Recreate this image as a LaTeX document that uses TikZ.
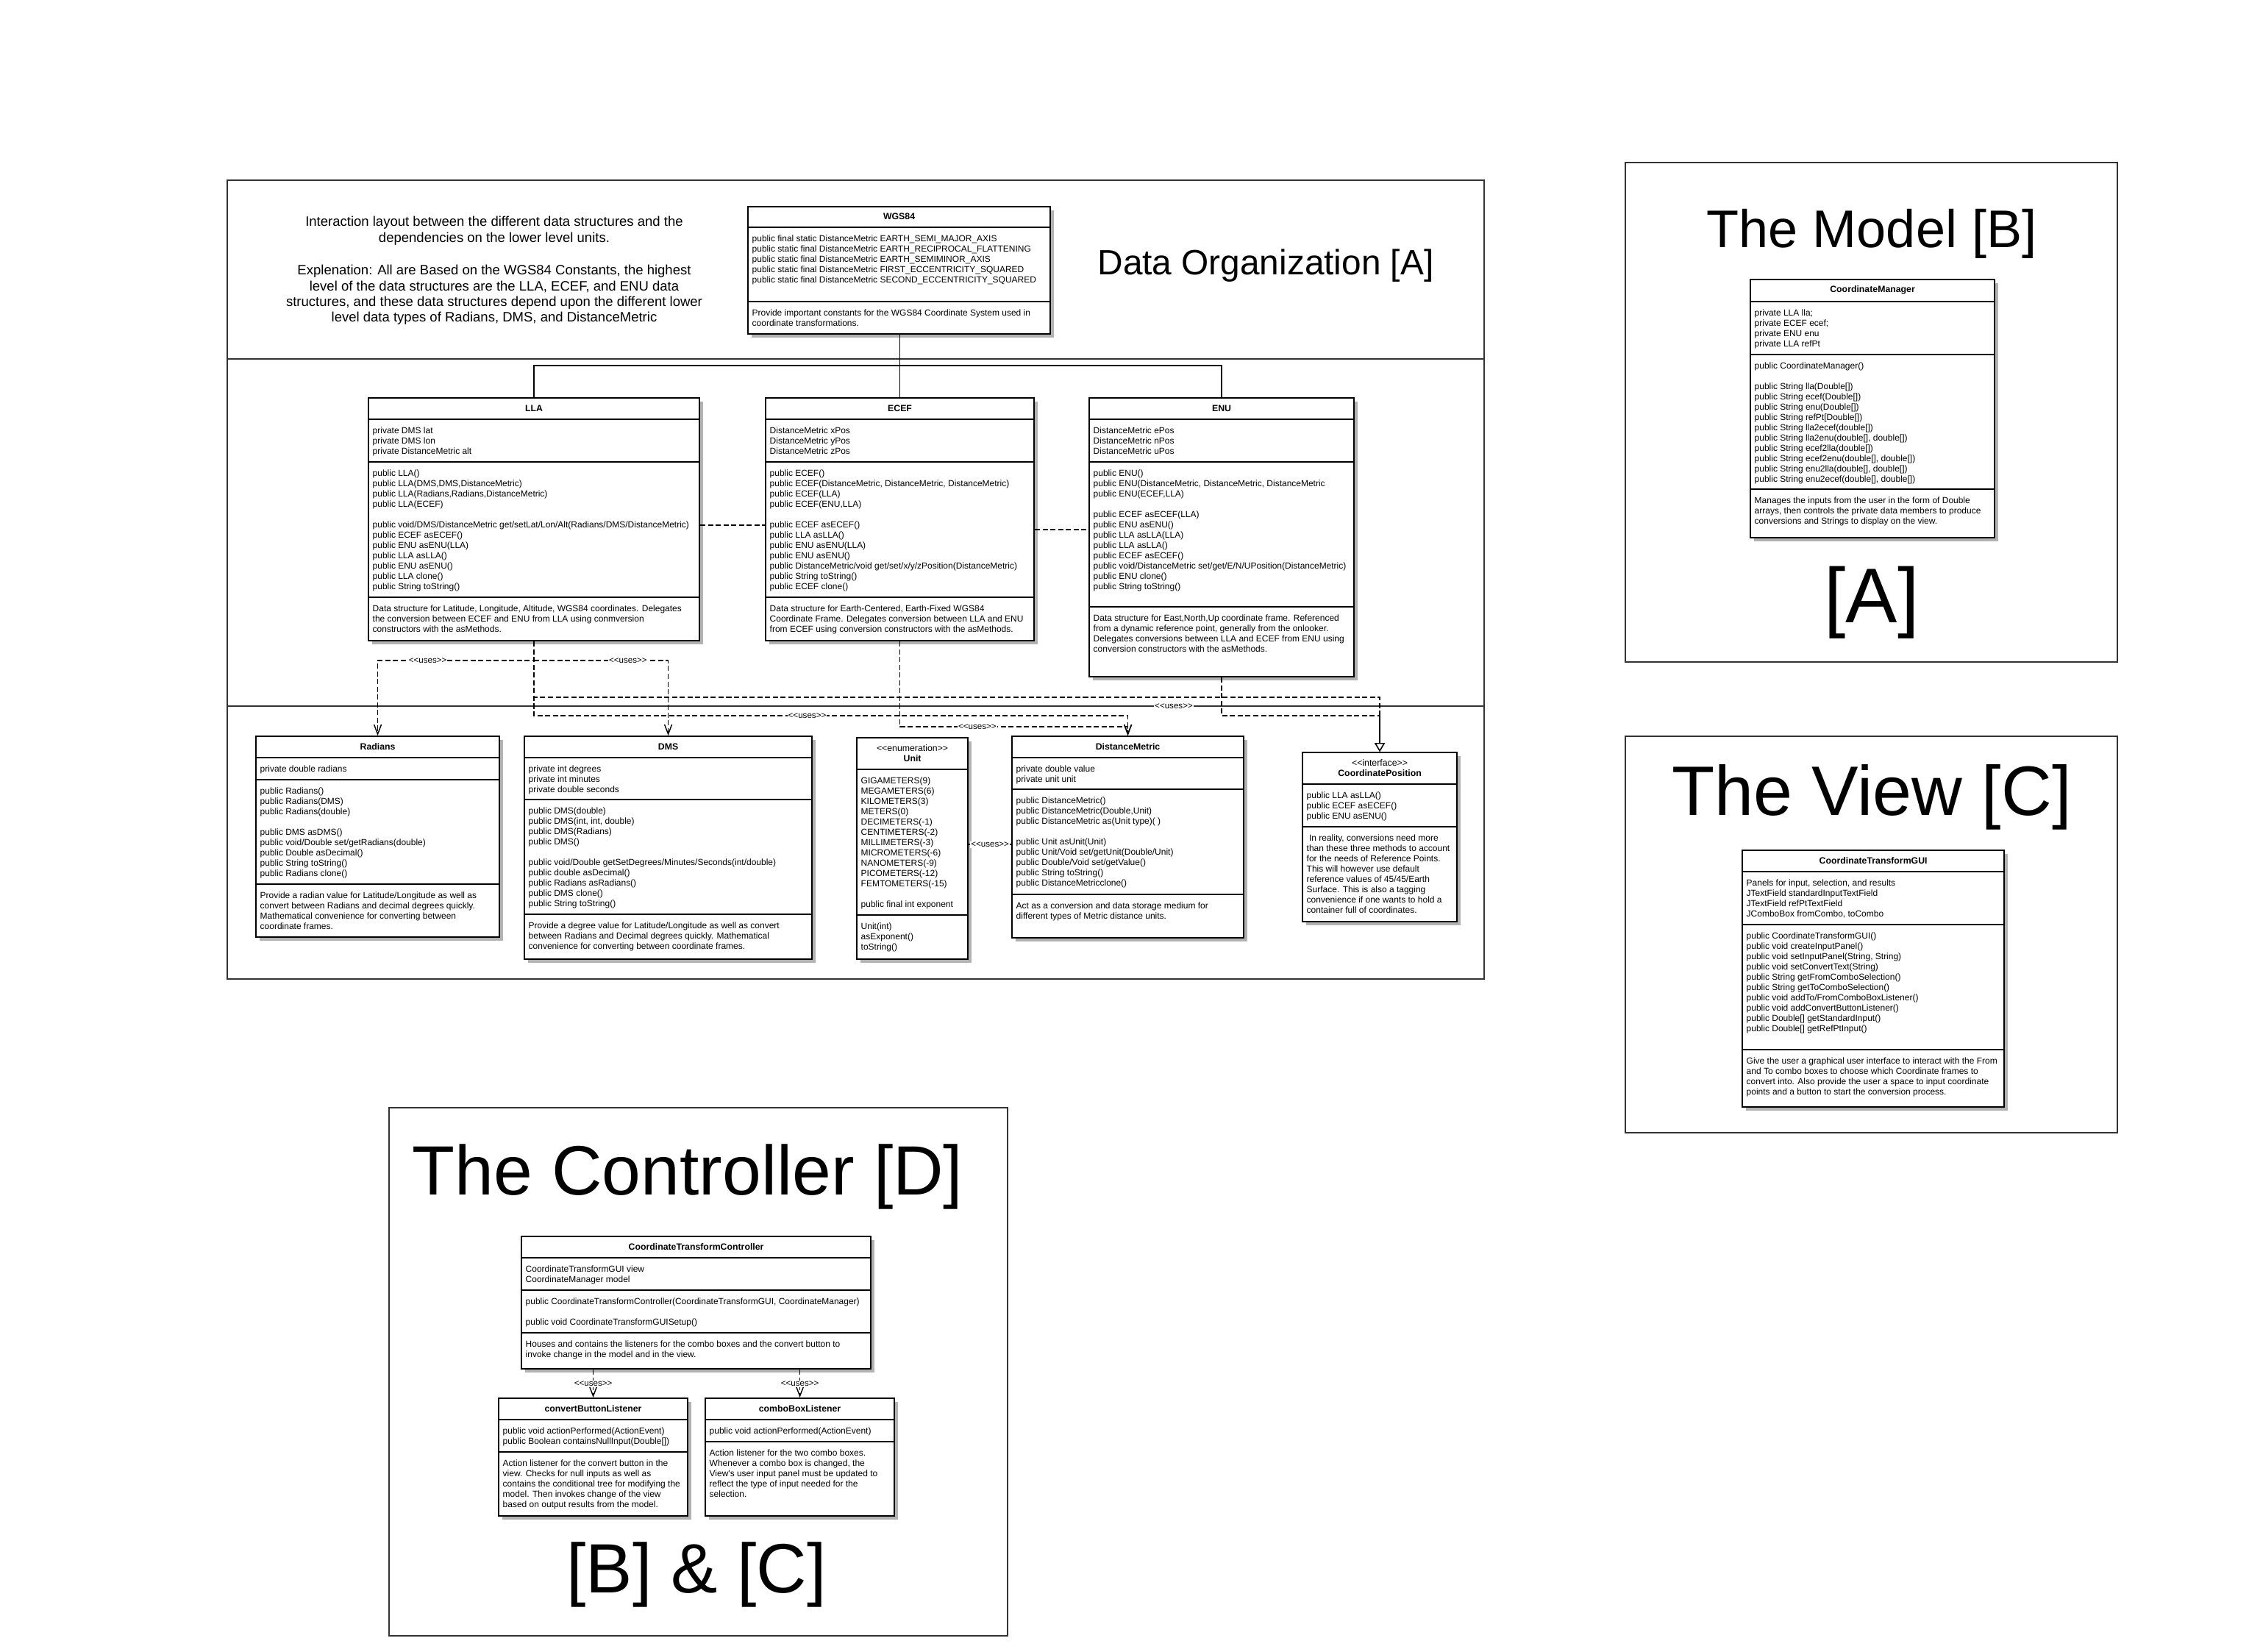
\documentclass[tikz,border=0pt]{standalone}
\usepackage{fontspec}
\setmainfont{Liberation Sans}[Ligatures=TeXOff]
\usetikzlibrary{positioning,arrows.meta,shadows}

% class box: name, top left corner, width, height, header height, title
\newcommand{\umlclass}[6]{%
  \node[cls, minimum width=#3cm, minimum height=#4cm] (#1) at (#2) {};
  \node[ctitle, shift={(0,#5/2)}] (#1-t) at (#1.north) {#6};}
% compartment: box, suffix, offset from top, text
\newcommand{\umlpart}[4]{%
  \draw[sep] ([yshift=-#3cm]#1.north west) -- ([yshift=-#3cm]#1.north east);
  \node[ctext, shift={(0.06,0.10)}] (#1-#2) at ([yshift=-#3cm]#1.north west) {#4};}

\begin{document}
\begin{tikzpicture}[x=1cm, y=-1cm,
  cls/.style={draw, line width=0.6pt, fill=white, inner sep=0pt, anchor=north west,
    general shadow={fill=black!30, shadow xshift=0.05cm, shadow yshift=-0.05cm}},
  ctitle/.style={font=\bfseries\fontsize{3.5}{4.1}\selectfont, inner sep=0pt, align=center},
  ctext/.style={anchor=north west, align=left, inner sep=0pt, font=\fontsize{3.41}{3.98}\selectfont},
  sep/.style={line width=0.6pt},
  frame/.style={draw=black!80, line width=0.6pt, anchor=north west, inner sep=0pt},
  dep/.style={dash pattern=on 2pt off 1pt, line width=0.4pt, -{Straight Barb[length=0.13cm, width=0.10cm]}},
  real/.style={dash pattern=on 2pt off 1pt, line width=0.4pt, -{Triangle[open, length=0.12cm, width=0.14cm, fill=white]}},
  assoc/.style={dash pattern=on 2pt off 1pt, line width=0.4pt},
  uses/.style={fill=white, inner sep=0.3pt, font=\fontsize{3.3}{4}\selectfont},
  intro/.style={align=center, inner sep=0pt, font=\fontsize{5.27}{6.1}\selectfont},
  bigtitle/.style={inner sep=0pt, font=\fontsize{#1}{#1}\selectfont}]
\useasboundingbox (0,0) rectangle (30.58,22.45);

% frames
\node[frame, minimum width=17.09cm, minimum height=10.86cm] (fA) at (3.08,2.44) {};
\draw[draw=black!80, line width=0.6pt] (fA.west |- 0,4.88) -- (fA.east |- 0,4.88);
\draw[draw=black!80, line width=0.6pt] (fA.west |- 0,9.60) -- (fA.east |- 0,9.60);
\node[frame, minimum width=6.69cm, minimum height=6.79cm] (fB) at (22.09,2.20) {};
\node[frame, minimum width=6.69cm, minimum height=5.39cm] (fC) at (22.09,10.00) {};
\node[frame, minimum width=8.41cm, minimum height=7.18cm] (fD) at (5.28,15.05) {};

\node[intro] (intro) at (6.72,3.68) {Interaction layout between the different data structures and the\\
dependencies on the lower level units.\\[6.6pt]
Explenation: All are Based on the WGS84 Constants, the highest\\
level of the data structures are the LLA, ECEF, and ENU data\\
structures, and these data structures depend upon the different lower\\
level data types of Radians, DMS, and DistanceMetric};
\node[bigtitle=13.6] (titleA) at (17.21,3.61) {Data Organization [A]};
\node[bigtitle=20.5] (titleB) at (25.45,3.18) {The Model [B]};
\node[bigtitle=30] (markA) at (25.45,8.19) {[A]};
\node[bigtitle=27.1] (titleC) at (25.45,10.84) {The View [C]};
\node[bigtitle=27] (titleD) at (9.35,16.00) {The Controller [D]};
\node[bigtitle=27] (markBC) at (9.47,21.41) {[B] \& [C]};

% data organization
\umlclass{wgs}{10.16,2.80}{4.11}{1.73}{0.29}{WGS84}
\umlpart{wgs}{a}{0.29}{public final static DistanceMetric EARTH\_SEMI\_MAJOR\_AXIS\\
public static final DistanceMetric EARTH\_RECIPROCAL\_FLATTENING\\
public static final DistanceMetric EARTH\_SEMIMINOR\_AXIS\\
public static final DistanceMetric FIRST\_ECCENTRICITY\_SQUARED\\
public static final DistanceMetric SECOND\_ECCENTRICITY\_SQUARED}
\umlpart{wgs}{b}{1.30}{Provide important constants for the WGS84 Coordinate System used in\\
coordinate transformations.}

\umlclass{lla}{5.00,5.40}{4.50}{3.30}{0.30}{LLA}
\umlpart{lla}{a}{0.30}{private DMS lat\\private DMS lon\\private DistanceMetric alt}
\umlpart{lla}{b}{0.88}{public LLA()\\public LLA(DMS,DMS,DistanceMetric)\\
public LLA(Radians,Radians,DistanceMetric)\\public LLA(ECEF)\\[3.98pt]
public void/DMS/DistanceMetric get/setLat/Lon/Alt(Radians/DMS/DistanceMetric)\\
public ECEF asECEF()\\public ENU asENU(LLA)\\public LLA asLLA()\\public ENU asENU()\\
public LLA clone()\\public String toString()}
\umlpart{lla}{c}{2.72}{Data structure for Latitude, Longitude, Altitude, WGS84 coordinates. Delegates\\
the conversion between ECEF and ENU from LLA using conmversion\\
constructors with the asMethods.}

\umlclass{ecef}{10.40,5.40}{3.65}{3.30}{0.30}{ECEF}
\umlpart{ecef}{a}{0.30}{DistanceMetric xPos\\DistanceMetric yPos\\DistanceMetric zPos}
\umlpart{ecef}{b}{0.88}{public ECEF()\\public ECEF(DistanceMetric, DistanceMetric, DistanceMetric)\\
public ECEF(LLA)\\public ECEF(ENU,LLA)\\[3.98pt]
public ECEF asECEF()\\public LLA asLLA()\\public ENU asENU(LLA)\\public ENU asENU()\\
public DistanceMetric/void get/set/x/y/zPosition(DistanceMetric)\\
public String toString()\\public ECEF clone()}
\umlpart{ecef}{c}{2.72}{Data structure for Earth-Centered, Earth-Fixed WGS84\\
Coordinate Frame. Delegates conversion between LLA and ENU\\
from ECEF using conversion constructors with the asMethods.}

\umlclass{enu}{14.80,5.40}{3.60}{3.79}{0.30}{ENU}
\umlpart{enu}{a}{0.30}{DistanceMetric ePos\\DistanceMetric nPos\\DistanceMetric uPos}
\umlpart{enu}{b}{0.88}{public ENU()\\public ENU(DistanceMetric, DistanceMetric, DistanceMetric\\
public ENU(ECEF,LLA)\\[3.98pt]
public ECEF asECEF(LLA)\\public ENU asENU()\\public LLA asLLA(LLA)\\public LLA asLLA()\\
public ECEF asECEF()\\public void/DistanceMetric set/get/E/N/UPosition(DistanceMetric)\\
public ENU clone()\\public String toString()}
\umlpart{enu}{c}{2.85}{Data structure for East,North,Up coordinate frame. Referenced\\
from a dynamic reference point, generally from the onlooker.\\
Delegates conversions between LLA and ECEF from ENU using\\
conversion constructors with the asMethods.}

\umlclass{rad}{3.47,10.00}{3.31}{2.73}{0.30}{Radians}
\umlpart{rad}{a}{0.30}{private double radians}
\umlpart{rad}{b}{0.60}{public Radians()\\public Radians(DMS)\\public Radians(double)\\[3.98pt]
public DMS asDMS()\\public void/Double set/getRadians(double)\\public Double asDecimal()\\
public String toString()\\public Radians clone()}
\umlpart{rad}{c}{2.02}{Provide a radian value for Latitude/Longitude as well as\\
convert between Radians and decimal degrees quickly.\\
Mathematical convenience for converting between\\coordinate frames.}

\umlclass{dms}{7.12,10.00}{3.91}{3.03}{0.30}{DMS}
\umlpart{dms}{a}{0.30}{private int degrees\\private int minutes\\private double seconds}
\umlpart{dms}{b}{0.87}{public DMS(double)\\public DMS(int, int, double)\\public DMS(Radians)\\public DMS()\\[3.98pt]
public void/Double getSetDegrees/Minutes/Seconds(int/double)\\public double asDecimal()\\
public Radians asRadians()\\public DMS clone()\\public String toString()}
\umlpart{dms}{c}{2.43}{Provide a degree value for Latitude/Longitude as well as convert\\
between Radians and Decimal degrees quickly. Mathematical\\
convenience for converting between coordinate frames.}

\umlclass{unit}{11.64,10.02}{1.51}{3.01}{0.44}{{\mdseries <<enumeration>>}\\Unit}
\umlpart{unit}{a}{0.44}{GIGAMETERS(9)\\MEGAMETERS(6)\\KILOMETERS(3)\\METERS(0)\\DECIMETERS(-1)\\
CENTIMETERS(-2)\\MILLIMETERS(-3)\\MICROMETERS(-6)\\NANOMETERS(-9)\\PICOMETERS(-12)\\
FEMTOMETERS(-15)\\[3.98pt]public final int exponent}
\umlpart{unit}{b}{2.42}{Unit(int)\\asExponent()\\toString()}

\umlclass{dm}{13.75,10.00}{3.15}{2.74}{0.30}{DistanceMetric}
\umlpart{dm}{a}{0.30}{private double value\\private unit unit}
\umlpart{dm}{b}{0.73}{public DistanceMetric()\\public DistanceMetric(Double,Unit)\\
public DistanceMetric as(Unit type)( )\\[3.98pt]
public Unit asUnit(Unit)\\public Unit/Void set/getUnit(Double/Unit)\\
public Double/Void set/getValue()\\public String toString()\\public DistanceMetricclone()}
\umlpart{dm}{c}{2.16}{Act as a conversion and data storage medium for\\
different types of Metric distance units.}

\umlclass{cpos}{17.70,10.22}{2.10}{2.30}{0.44}{{\mdseries <<interface>>}\\CoordinatePosition}
\umlpart{cpos}{a}{0.44}{public LLA asLLA()\\public ECEF asECEF()\\public ENU asENU()}
\umlpart{cpos}{b}{1.02}{\ In reality, conversions need more\\than these three methods to account\\
for the needs of Reference Points.\\This will however use default\\
reference values of 45/45/Earth\\Surface. This is also a tagging\\
convenience if one wants to hold a\\container full of coordinates.}

% model
\umlclass{cman}{23.79,3.79}{3.32}{3.51}{0.31}{CoordinateManager}
\umlpart{cman}{a}{0.31}{private LLA lla;\\private ECEF ecef;\\private ENU enu\\private LLA refPt}
\umlpart{cman}{b}{1.03}{public CoordinateManager()\\[3.98pt]
public String lla(Double[])\\public String ecef(Double[])\\public String enu(Double[])\\
public String refPt[Double[])\\public String lla2ecef(double[])\\
public String lla2enu(double[], double[])\\public String ecef2lla(double[])\\
public String ecef2enu(double[], double[])\\public String enu2lla(double[], double[])\\
public String enu2ecef(double[], double[])}
\umlpart{cman}{c}{2.86}{Manages the inputs from the user in the form of Double\\
arrays, then controls the private data members to produce\\
conversions and Strings to display on the view.}

% view
\umlclass{gui}{23.68,11.55}{3.56}{3.49}{0.30}{CoordinateTransformGUI}
\umlpart{gui}{a}{0.30}{Panels for input, selection, and results\\JTextField standardInputTextField\\
JTextField refPtTextField\\JComboBox fromCombo, toCombo}
\umlpart{gui}{b}{1.02}{public CoordinateTransformGUI()\\public void createInputPanel()\\
public void setInputPanel(String, String)\\public void setConvertText(String)\\
public String getFromComboSelection()\\public String getToComboSelection()\\
public void addTo/FromComboBoxListener()\\public void addConvertButtonListener()\\
public Double[] getStandardInput()\\public Double[] getRefPtInput()}
\umlpart{gui}{c}{2.72}{Give the user a graphical user interface to interact with the From\\
and To combo boxes to choose which Coordinate frames to\\
convert into. Also provide the user a space to input coordinate\\
points and a button to start the conversion process.}

% controller
\umlclass{ctrl}{7.08,16.80}{4.75}{1.80}{0.30}{CoordinateTransformController}
\umlpart{ctrl}{a}{0.30}{CoordinateTransformGUI view\\CoordinateManager model}
\umlpart{ctrl}{b}{0.74}{public CoordinateTransformController(CoordinateTransformGUI, CoordinateManager)\\[3.98pt]
public void CoordinateTransformGUISetup()}
\umlpart{ctrl}{c}{1.32}{Houses and contains the listeners for the combo boxes and the convert button to\\
invoke change in the model and in the view.}

\umlclass{conv}{6.77,19.00}{2.57}{1.60}{0.30}{convertButtonListener}
\umlpart{conv}{a}{0.30}{public void actionPerformed(ActionEvent)\\public Boolean containsNullInput(Double[])}
\umlpart{conv}{b}{0.74}{Action listener for the convert button in the\\
view. Checks for null inputs as well as\\
contains the conditional tree for modifying the\\
model. Then invokes change of the view\\
based on output results from the model.}

\umlclass{combo}{9.58,19.00}{2.57}{1.60}{0.30}{comboBoxListener}
\umlpart{combo}{a}{0.30}{public void actionPerformed(ActionEvent)}
\umlpart{combo}{b}{0.60}{Action listener for the two combo boxes.\\
Whenever a combo box is changed, the\\
View's user input panel must be updated to\\
reflect the type of input needed for the\\
selection.}

% connectors
\draw[line width=0.4pt] (lla.north) -- ++(0,-0.43) -| (enu.north);
\draw[line width=0.4pt] (ecef.north) -- (ecef.north |- wgs.south);
\draw[assoc] (lla.east |- 0,7.14) -- (ecef.west |- 0,7.14);
\draw[assoc] (ecef.east |- 0,7.20) -- (enu.west |- 0,7.20);
\draw[dep] (lla.south) -- ++(0,0.26) -| node[uses, pos=0.34] (u1) {<<uses>>} (rad.north);
\draw[dep] (lla.south) ++(0,0.26) -| node[uses, pos=0.35] (u2) {<<uses>>} (dms.north);
\draw[real] (lla.south) -- ++(0,0.76) -| (cpos.north);
\draw[dep] (lla.south) -- ++(0,1.01) -| node[uses, pos=0.23] (u3) {<<uses>>} (dm.north);
\draw[dep] (ecef.south) -- ++(0,1.16) -| node[uses, pos=0.17] (u4) {<<uses>>} (dm.north);
\draw[real] (enu.south) -- ++(0,0.52) -| (cpos.north);
\node[uses] (u5) at (15.96,9.60) {<<uses>>};
\draw[assoc] (unit.east |- 0,11.48) -- node[uses] (u6) {<<uses>>} (dm.west |- 0,11.48);
\draw[dep] (conv.north |- ctrl.south) -- node[uses] (u7) {<<uses>>} (conv.north);
\draw[dep] (combo.north |- ctrl.south) -- node[uses] (u8) {<<uses>>} (combo.north);
\end{tikzpicture}
\end{document}
